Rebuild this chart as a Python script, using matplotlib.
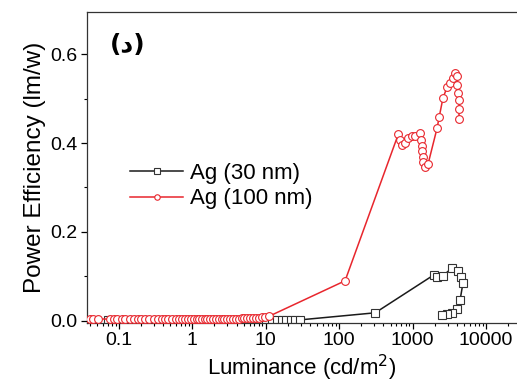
import numpy as np
import matplotlib
matplotlib.use("Agg")
import matplotlib.pyplot as plt
from matplotlib.ticker import LogLocator, FixedLocator, MultipleLocator, NullFormatter

plt.rcParams["font.family"] = ["Liberation Sans", "DejaVu Sans"]

# Ag (30 nm) - black squares
lum_30 = [0.07, 0.09, 0.12, 0.16, 0.2, 0.25, 0.32, 0.4, 0.5, 0.63, 0.8, 1.0, 1.25,
          1.6, 2.0, 2.5, 3.2, 4.0, 5.0, 6.3, 8.0, 10, 12, 14, 16.5, 19, 22, 25, 29,
          309, 1930, 2150, 2560, 3440, 4150, 4560, 4830, 4420, 4030, 3440, 2950, 2520]
pe_30 = [0.001, 0.001, 0.001, 0.001, 0.001, 0.001, 0.001, 0.001, 0.001, 0.001, 0.001,
         0.001, 0.001, 0.001, 0.001, 0.001, 0.001, 0.001, 0.002, 0.002, 0.002, 0.002,
         0.002, 0.002, 0.002, 0.002, 0.002, 0.002, 0.002,
         0.018, 0.103, 0.099, 0.101, 0.119, 0.112, 0.099, 0.085, 0.047, 0.027, 0.018,
         0.016, 0.013]

# Ag (100 nm) - red circles
lum_100 = [0.040, 0.045, 0.052, 0.075, 0.085, 0.095, 0.11, 0.12, 0.14, 0.16, 0.18,
           0.20, 0.23, 0.26, 0.30, 0.34, 0.38, 0.42, 0.47, 0.53, 0.60, 0.66, 0.72,
           0.80, 0.88, 0.96, 1.05, 1.15, 1.25, 1.35, 1.47, 1.60, 1.75, 1.90, 2.1, 2.3,
           2.5, 2.7, 3.0, 3.3, 3.6, 3.9, 4.3, 4.7, 5.1, 5.6, 6.1, 6.7, 7.3, 8.0, 8.8,
           9.6, 11, 120,
           637, 676, 718, 794, 871, 988, 1084, 1265, 1308, 1350, 1350, 1393, 1393,
           1480, 1620, 2150, 2290, 2580, 2940, 3230, 3540, 3780, 4000, 4000, 4150,
           4270, 4270, 4270]
pe_100 = [0.004, 0.004, 0.004, 0.004, 0.004, 0.004, 0.004, 0.004, 0.004, 0.004, 0.004,
          0.004, 0.004, 0.004, 0.004, 0.004, 0.004, 0.004, 0.004, 0.004, 0.004, 0.004,
          0.004, 0.004, 0.004, 0.004, 0.005, 0.005, 0.005, 0.005, 0.005, 0.005, 0.005,
          0.005, 0.005, 0.005, 0.005, 0.005, 0.005, 0.005, 0.005, 0.005, 0.005, 0.006,
          0.006, 0.006, 0.006, 0.006, 0.007, 0.007, 0.008, 0.008, 0.010, 0.090,
          0.420, 0.407, 0.396, 0.400, 0.411, 0.416, 0.416, 0.422, 0.407, 0.393, 0.382,
          0.369, 0.357, 0.346, 0.353, 0.434, 0.458, 0.501, 0.526, 0.535, 0.546, 0.557,
          0.551, 0.530, 0.512, 0.497, 0.476, 0.454]

RED = "#e8262d"
BLACK = "#1a1a1a"

fig = plt.figure(figsize=(5.17, 3.85), dpi=100)
ax = fig.add_axes([0.168, 0.161, 0.832, 0.808])

ax.plot(lum_30, pe_30, color=BLACK, lw=1.1, marker="s", ms=5.2, mfc="white",
        mec="#333333", mew=0.8, label="Ag (30 nm)", zorder=2)
ax.plot(lum_100, pe_100, color=RED, lw=1.1, marker="o", ms=5.6, mfc="white",
        mec=RED, mew=0.8, label="Ag (100 nm)", zorder=3)

ax.set_xscale("log")
ax.set_xlim(0.0366, 26300)
ax.set_ylim(-0.005, 0.695)
ax.xaxis.set_major_locator(FixedLocator([0.1, 1, 10, 100, 1000, 10000]))
ax.set_xticklabels(["0.1", "1", "10", "100", "1000", "10000"])
ax.xaxis.set_minor_locator(LogLocator(base=10, subs=np.arange(2, 10)))
ax.xaxis.set_minor_formatter(NullFormatter())
ax.yaxis.set_major_locator(FixedLocator([0.0, 0.2, 0.4, 0.6]))
ax.set_yticklabels(["0.0", "0.2", "0.4", "0.6"])
ax.yaxis.set_minor_locator(MultipleLocator(0.1))

ax.tick_params(which="major", direction="out", length=4, width=0.9, labelsize=14,
               top=False, right=False, pad=2.5)
ax.tick_params(which="minor", direction="out", length=2.5, width=0.8,
               top=False, right=False)
ax.spines["right"].set_visible(False)
for s in ["left", "bottom", "top"]:
    ax.spines[s].set_linewidth(0.9)
    ax.spines[s].set_color("#333333")

ax.set_xlabel("Luminance (cd/m$^2$)", fontsize=16, labelpad=3)
ax.set_ylabel("Power Efficiency (lm/w)", fontsize=17.5, labelpad=3)

ax.text(0.095, 0.895, "(د)", transform=ax.transAxes, fontsize=18,
        fontweight="bold", ha="center", va="center", family=["DejaVu Sans"])

leg = ax.legend(loc="center left", bbox_to_anchor=(0.1, 0.44), frameon=False,
                fontsize=16, handlelength=2.4, handletextpad=0.3, labelspacing=0.2,
                borderpad=0, borderaxespad=0, markerscale=0.7)

fig.savefig("out.png", dpi=100)
